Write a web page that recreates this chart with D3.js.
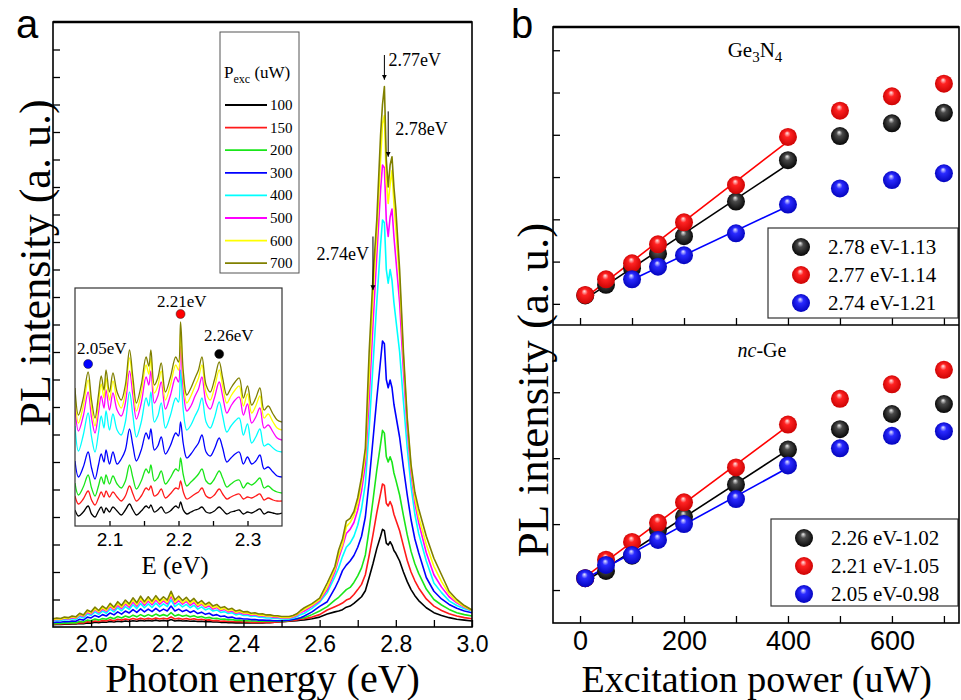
<!DOCTYPE html>
<html>
<head>
<meta charset="utf-8">
<script src="https://cdn.jsdelivr.net/npm/d3@7"></script>
<style>
  body { margin: 0; background: #fff; }
  svg { display: block; }
</style>
</head>
<body>
<svg id="chart" width="961" height="700"></svg>
<script>
// ===================== data =====================
// Panel a: PL spectra for each excitation power (uW)
const powers = [100, 150, 200, 300, 400, 500, 600, 700];
const powerColors = ["#000000", "#ff1a1a", "#19e619", "#0000ff", "#00ffff", "#ff00ff", "#ffff00", "#808000"];

// photon energy grid (eV): band region 1.90-2.55, then the main emission peak
const energyMain = [
  1.90,1.91,1.92,1.93,1.94,1.95,1.96,1.97,1.98,1.99,
  2.00,2.01,2.02,2.03,2.04,2.05,2.06,2.07,2.08,2.09,
  2.10,2.11,2.12,2.13,2.14,2.15,2.16,2.17,2.18,2.19,
  2.20,2.21,2.22,2.23,2.24,2.25,2.26,2.27,2.28,2.29,
  2.30,2.31,2.32,2.33,2.34,2.35,2.36,2.37,2.38,2.39,
  2.40,2.41,2.42,2.43,2.44,2.45,2.46,2.47,2.48,2.49,
  2.50,2.51,2.52,2.53,2.54,2.55,
  2.56,2.58,2.60,2.62,2.64,
  2.65,2.66,2.67,2.68,2.69,2.70,2.71,2.72,2.73,2.74,2.75,2.76,
  2.765,2.77,2.775,2.78,2.785,2.79,2.795,
  2.80,2.81,2.82,2.83,2.84,2.85,2.86,
  2.88,2.90,2.92,2.94,2.96,2.98,3.00
];

const pl100 = [
  0.08,0.09,0.09,0.10,0.10,0.11,0.11,0.13,0.12,0.15,
  0.14,0.17,0.16,0.18,0.17,0.20,0.18,0.21,0.19,0.22,
  0.20,0.23,0.21,0.24,0.22,0.24,0.22,0.25,0.22,0.24,
  0.22,0.27,0.22,0.24,0.22,0.23,0.21,0.22,0.20,0.21,
  0.19,0.20,0.18,0.18,0.17,0.17,0.16,0.16,0.15,0.15,
  0.15,0.15,0.15,0.15,0.15,0.15,0.16,0.16,0.17,0.18,
  0.19,0.20,0.21,0.22,0.23,0.25,
  0.26,0.30,0.36,0.47,0.55,
  0.58,0.63,0.72,0.76,0.86,0.98,1.10,1.32,1.80,2.30,2.85,3.30,
  3.55,3.50,3.05,2.98,3.10,2.98,2.78,
  2.68,2.40,2.00,1.65,1.36,1.14,0.96,
  0.70,0.52,0.42,0.34,0.28,0.25,0.22
];
const pl150 = [
  0.10,0.11,0.11,0.12,0.12,0.13,0.13,0.16,0.15,0.19,
  0.18,0.22,0.20,0.24,0.22,0.26,0.23,0.28,0.25,0.29,
  0.26,0.31,0.27,0.32,0.28,0.32,0.28,0.33,0.29,0.32,
  0.29,0.37,0.29,0.32,0.28,0.31,0.27,0.30,0.26,0.28,
  0.25,0.26,0.23,0.24,0.21,0.22,0.20,0.20,0.19,0.19,
  0.18,0.18,0.17,0.17,0.17,0.17,0.17,0.17,0.17,0.18,
  0.19,0.20,0.22,0.24,0.26,0.28,
  0.30,0.36,0.45,0.62,0.74,
  0.80,0.87,0.98,1.04,1.18,1.36,1.55,1.90,2.60,3.35,4.15,4.85,
  5.20,5.15,4.50,4.40,4.56,4.40,4.10,
  3.90,3.50,2.95,2.42,2.00,1.68,1.42,
  1.02,0.76,0.60,0.48,0.40,0.34,0.30
];
const pl200 = [
  0.12,0.13,0.13,0.15,0.14,0.16,0.15,0.20,0.18,0.25,
  0.23,0.29,0.25,0.31,0.28,0.35,0.30,0.38,0.33,0.40,
  0.35,0.43,0.37,0.45,0.38,0.45,0.39,0.47,0.40,0.45,
  0.40,0.52,0.40,0.45,0.39,0.43,0.37,0.41,0.35,0.38,
  0.33,0.35,0.31,0.32,0.28,0.29,0.26,0.27,0.24,0.25,
  0.23,0.23,0.22,0.22,0.21,0.21,0.21,0.21,0.21,0.21,
  0.21,0.22,0.24,0.27,0.30,0.32,
  0.34,0.45,0.58,0.74,0.98,
  1.08,1.22,1.36,1.44,1.62,1.86,2.15,2.62,3.55,4.60,5.70,6.65,
  7.15,7.05,6.20,6.00,6.19,6.00,5.60,
  5.35,4.80,4.05,3.35,2.75,2.30,1.95,
  1.38,1.00,0.80,0.64,0.52,0.45,0.40
];
const pl300 = [
  0.16,0.18,0.17,0.20,0.19,0.22,0.21,0.28,0.25,0.36,
  0.33,0.42,0.36,0.45,0.40,0.51,0.44,0.55,0.47,0.58,
  0.51,0.63,0.53,0.66,0.55,0.65,0.56,0.68,0.57,0.65,
  0.58,0.76,0.58,0.65,0.56,0.62,0.53,0.59,0.49,0.54,
  0.46,0.50,0.42,0.45,0.38,0.40,0.34,0.36,0.31,0.32,
  0.29,0.29,0.27,0.27,0.25,0.25,0.24,0.24,0.23,0.23,
  0.23,0.24,0.25,0.27,0.30,0.34,
  0.40,0.55,0.75,0.92,1.41,
  1.70,2.05,2.25,2.40,2.60,2.90,3.30,4.00,5.30,6.80,8.30,9.70,
  10.40,10.30,9.00,8.70,8.98,8.70,8.10,
  7.70,6.90,5.80,4.80,3.90,3.20,2.70,
  1.80,1.30,1.02,0.82,0.68,0.58,0.52
];
const pl400 = [
  0.22,0.25,0.24,0.27,0.26,0.30,0.28,0.38,0.33,0.47,
  0.42,0.55,0.46,0.58,0.50,0.65,0.55,0.70,0.59,0.74,
  0.64,0.81,0.67,0.85,0.70,0.84,0.71,0.87,0.73,0.84,
  0.74,0.99,0.74,0.85,0.73,0.82,0.70,0.79,0.65,0.73,
  0.62,0.68,0.58,0.62,0.53,0.56,0.49,0.52,0.44,0.47,
  0.42,0.43,0.38,0.40,0.36,0.36,0.33,0.33,0.31,0.31,
  0.29,0.29,0.29,0.32,0.37,0.45,
  0.50,0.68,0.90,1.25,1.83,
  2.15,2.56,2.90,3.05,3.30,3.70,4.30,5.20,7.20,9.50,11.80,13.90,
  14.80,14.70,13.00,12.50,13.00,12.60,11.80,
  11.20,10.00,8.20,6.50,5.10,4.10,3.40,
  2.40,1.60,1.25,0.95,0.78,0.66,0.58
];
const pl500 = [
  0.25,0.28,0.27,0.31,0.29,0.34,0.32,0.43,0.38,0.53,
  0.47,0.62,0.52,0.65,0.57,0.74,0.62,0.79,0.67,0.84,
  0.72,0.91,0.76,0.96,0.79,0.95,0.81,0.98,0.83,0.95,
  0.84,1.12,0.84,0.96,0.83,0.93,0.79,0.89,0.74,0.83,
  0.71,0.77,0.65,0.71,0.60,0.64,0.55,0.58,0.50,0.53,
  0.47,0.48,0.43,0.45,0.40,0.41,0.38,0.38,0.35,0.35,
  0.33,0.33,0.33,0.36,0.42,0.52,
  0.58,0.75,0.95,1.35,2.00,
  2.50,2.92,3.40,3.55,3.80,4.25,4.95,5.90,8.30,11.00,13.50,15.90,
  16.80,16.70,14.80,14.20,14.90,15.20,14.20,
  13.40,11.80,9.30,7.20,5.60,4.50,3.80,
  2.70,1.90,1.45,1.10,0.88,0.72,0.60
];
const pl600 = [
  0.27,0.30,0.28,0.33,0.31,0.37,0.34,0.46,0.41,0.57,
  0.51,0.66,0.56,0.70,0.61,0.79,0.67,0.85,0.72,0.90,
  0.78,0.98,0.81,1.03,0.85,1.01,0.87,1.05,0.89,1.01,
  0.90,1.20,0.90,1.03,0.88,0.99,0.85,0.96,0.79,0.88,
  0.75,0.83,0.70,0.75,0.64,0.68,0.59,0.63,0.53,0.57,
  0.51,0.52,0.46,0.48,0.43,0.44,0.40,0.40,0.38,0.38,
  0.35,0.35,0.35,0.39,0.45,0.55,
  0.64,0.80,1.00,1.45,2.10,
  2.62,3.00,3.65,3.80,4.05,4.50,5.25,6.25,9.10,12.00,14.30,17.00,
  18.30,18.60,16.20,15.40,16.10,16.60,15.40,
  14.50,12.60,9.80,7.50,5.80,4.70,4.00,
  3.00,2.20,1.65,1.20,0.92,0.74,0.60
];
const pl700 = [
  0.30,0.33,0.31,0.36,0.34,0.40,0.37,0.50,0.44,0.62,
  0.55,0.72,0.60,0.76,0.66,0.86,0.72,0.92,0.78,0.98,
  0.84,1.06,0.88,1.12,0.92,1.10,0.94,1.14,0.96,1.10,
  0.98,1.30,0.98,1.12,0.96,1.08,0.92,1.04,0.86,0.96,
  0.82,0.90,0.76,0.82,0.70,0.74,0.64,0.68,0.58,0.62,
  0.55,0.56,0.50,0.52,0.47,0.48,0.44,0.44,0.41,0.41,
  0.38,0.38,0.38,0.42,0.48,0.60,
  0.70,0.85,1.05,1.60,2.20,
  2.80,3.20,3.85,3.95,4.20,4.70,5.45,6.50,10.00,12.70,14.80,17.90,
  19.00,19.65,17.00,16.00,16.80,17.10,16.00,
  15.20,13.00,10.00,7.60,5.90,4.90,4.30,
  3.30,2.50,1.90,1.30,1.00,0.78,0.62
];
const spectra = [pl100, pl150, pl200, pl300, pl400, pl500, pl600, pl700];

// tick values of panel a
const ticksA = [2.0, 2.1, 2.2, 2.3, 2.4, 2.5, 2.6, 2.7, 2.8, 2.9, 3.0];
const tickLabelsA = [2.0, 2.2, 2.4, 2.6, 2.8, 3.0];

// peak annotations in panel a (arrow top / tip in intensity units)
const peakLabels = ["2.77eV", "2.78eV", "2.74eV"];
const peakEnergies = [2.77, 2.78, 2.74];
const arrowTop = [20.8, 18.75, 14.2];
const arrowTip = [19.9, 17.1, 12.25];

// Inset: band region 2.05-2.35 eV, spectra stacked
const energyInset = [
  2.050,2.055,2.062,2.069,2.074,2.079,2.084,2.088,2.092,2.095,
  2.100,2.105,2.111,2.117,2.123,2.129,2.134,2.139,2.146,2.153,
  2.157,2.160,2.165,2.170,2.175,2.181,2.188,2.196,2.200,2.203,
  2.207,2.212,2.218,2.224,2.229,2.234,2.240,2.246,2.252,2.259,
  2.264,2.270,2.276,2.282,2.288,2.294,2.300,2.306,2.312,2.318,
  2.324,2.330,2.337,2.343,2.350
];
const inset100 = [
  16,10,14,20,12,9,15,19,13,18, 14,19,15,11,16,22,16,11,15,20,
  18,21,14,16,19,13,15,20,18,24, 16,12,14,16,17,19,14,13,15,19,
  16,12,14,15,16,12,14,13,15,17, 12,14,13,12,13
];
const inset150 = [
  30,22,27,35,26,21,28,34,29,35, 29,34,29,25,30,40,32,25,30,38,
  36,40,30,32,37,28,32,38,37,45, 34,27,29,32,34,38,30,28,31,37,
  32,27,29,31,32,27,29,28,30,32, 26,28,26,25,25
];
const inset200 = [
  43,31,39,51,38,30,40,49,42,51, 42,50,42,38,45,61,48,37,45,57,
  53,61,45,48,55,42,48,57,55,68, 51,40,44,48,52,57,45,42,47,55,
  48,39,42,45,46,38,43,41,44,48, 38,40,36,34,33
];
const inset300 = [
  65,49,59,74,58,47,61,72,64,76, 62,74,62,67,76,97,80,65,76,93,
  87,97,76,80,89,72,80,93,90,104, 82,68,72,78,83,91,74,70,77,88,
  78,64,68,72,74,62,69,62,65,71, 57,59,54,50,49
];
const inset400 = [
  100,75,91,113,89,74,93,110,98,115, 96,112,96,91,104,134,110,89,104,128,
  120,134,104,110,123,98,110,128,124,156, 115,96,101,110,117,128,104,98,108,124,
  110,94,100,105,108,91,102,83,89,97, 80,82,78,75,74
];
const inset500 = [
  120,95,110,134,108,93,113,130,118,136, 116,133,116,110,123,155,130,107,123,149,
  141,155,123,130,144,117,130,149,144,180, 136,115,120,130,137,149,123,117,128,144,
  130,113,120,126,129,111,122,103,109,118, 98,101,94,88,86
];
const inset600 = [
  130,103,120,146,118,100,123,142,128,148, 126,145,126,118,133,168,140,115,133,161,
  152,168,133,140,155,126,140,161,156,194, 146,123,130,140,148,161,133,126,138,156,
  140,123,130,136,140,120,132,113,120,130, 108,112,104,98,96
];
const inset700 = [
  138,111,128,154,126,108,131,150,136,156, 134,153,134,126,141,176,148,123,141,169,
  160,176,141,148,163,134,148,169,164,204, 154,131,138,148,156,169,141,134,146,164,
  148,131,138,144,148,128,140,121,128,138, 116,120,112,106,104
];
const insetSpectra = [inset100, inset150, inset200, inset300, inset400, inset500, inset600, inset700];
const insetTicks = [2.1, 2.15, 2.2, 2.25, 2.3];
const insetTickLabels = [2.1, 2.2, 2.3];

// spikes marked in the inset (index into energyInset)
const insetMarkLabels = ["2.05eV", "2.21eV", "2.26eV"];
const insetMarkIndex = [3, 29, 39];
const insetMarkColors = ["#0000ff", "#ff0000", "#000000"];

// Panel b: integrated PL vs excitation power
const powerB = [10, 50, 100, 150, 200, 300, 400, 500, 600, 700];
const ge278 = [0.70, 0.95, 1.34, 1.69, 2.10, 2.92, 3.90, 4.47, 4.77, 5.02];
const ge277 = [0.71, 1.08, 1.46, 1.91, 2.43, 3.31, 4.45, 5.07, 5.41, 5.71];
const ge274 = [null, null, 1.08, 1.38, 1.65, 2.17, 2.85, 3.23, 3.43, 3.59];
const geLabels = ["2.78 eV-1.13", "2.77 eV-1.14", "2.74 eV-1.21"];

const nc226 = [0.68, 0.79, 1.02, 1.41, 1.61, 2.10, 2.63, 2.94, 3.17, 3.32];
const nc221 = [0.68, 0.96, 1.23, 1.52, 1.83, 2.36, 3.01, 3.40, 3.62, 3.84];
const nc205 = [0.68, 0.88, 1.03, 1.26, 1.50, 1.88, 2.39, 2.65, 2.84, 2.91];
const ncLabels = ["2.26 eV-1.02", "2.21 eV-1.05", "2.05 eV-0.98"];

const ticksB = [0, 100, 200, 300, 400, 500, 600, 700];
const tickLabelsB = [0, 200, 400, 600];
const seriesColors = ["black", "red", "blue"];
const lineColors = ["#000000", "#ff0000", "#0000ff"];
const fitMaxPower = 400;

// ===================== drawing =====================
const svg = d3.select("#chart");
const serif = "'Liberation Serif','Times New Roman',serif";
const sans = "'Liberation Sans',Arial,sans-serif";

const defs = svg.append("defs");
// shaded sphere fills
const sphereStops = {
  black: [["0%", "#f0f0f0"], ["30%", "#4a4a4a"], ["100%", "#000000"]],
  red:   [["0%", "#ffeaea"], ["32%", "#ff2222"], ["100%", "#c80000"]],
  blue:  [["0%", "#eaeaff"], ["32%", "#2a2aff"], ["100%", "#0000b8"]]
};
Object.entries(sphereStops).forEach(([name, stops]) => {
  const g = defs.append("radialGradient").attr("id", "sph-" + name)
    .attr("cx", "50%").attr("cy", "50%").attr("r", "55%")
    .attr("fx", "45%").attr("fy", "28%");
  stops.forEach(s => g.append("stop").attr("offset", s[0]).attr("stop-color", s[1]));
});
defs.append("marker").attr("id", "arrowhead")
  .attr("viewBox", "0 0 10 10").attr("refX", 10).attr("refY", 5)
  .attr("markerWidth", 5).attr("markerHeight", 7).attr("orient", "auto")
  .attr("markerUnits", "userSpaceOnUse")
  .append("path").attr("d", "M0,0 L10,5 L0,10 Z").attr("fill", "#000");

function styleTicks(g) {
  g.select(".domain").remove();
  g.selectAll("line").attr("stroke", "#000").attr("stroke-width", 1.3);
}

// ---------- Panel a ----------
const A = { l: 53, t: 22, r: 472, b: 627 };
const xA = d3.scaleLinear().domain([1.9, 3.0]).range([A.l, A.r]);
const yA = d3.scaleLinear().domain([0, 22]).range([A.b, A.t]);

const gA = svg.append("g");
const lineA = d3.line().x((d, i) => xA(energyMain[i])).y(d => yA(d));
spectra.forEach((s, k) => {
  gA.append("path").attr("d", lineA(s))
    .attr("fill", "none").attr("stroke", powerColors[k]).attr("stroke-width", 1.6)
    .attr("stroke-linejoin", "round");
});

// inward ticks
gA.append("g").attr("transform", `translate(${A.l},0)`)
  .call(d3.axisLeft(yA).tickValues(d3.range(1, 22)).tickSize(-7).tickFormat(""))
  .call(styleTicks).selectAll("text").remove();
gA.append("g").attr("transform", `translate(0,${A.b})`)
  .call(d3.axisBottom(xA).tickValues(ticksA).tickSize(-7).tickFormat(""))
  .call(styleTicks).selectAll("text").remove();
gA.append("g").attr("transform", `translate(0,${A.b})`)
  .call(d3.axisBottom(xA).tickValues(tickLabelsA).tickSize(0).tickPadding(9).tickFormat(d3.format(".1f")))
  .call(g => g.select(".domain").remove())
  .call(g => g.selectAll("text").attr("font-family", sans).attr("font-size", 23).attr("fill", "#000"));

gA.append("rect").attr("x", A.l).attr("y", A.t).attr("width", A.r - A.l).attr("height", A.b - A.t)
  .attr("fill", "none").attr("stroke", "#000").attr("stroke-width", 1.6);
gA.append("line").attr("x1", A.l).attr("x2", A.r).attr("y1", A.t).attr("y2", A.t)
  .attr("stroke", "#000").attr("stroke-width", 2.4);

// axis titles
svg.append("text").attr("x", xA(2.45)).attr("y", 692).attr("text-anchor", "middle")
  .attr("font-family", serif).attr("font-size", 40).text("Photon energy (eV)");
svg.append("text").attr("transform", "translate(50,263) rotate(-90)")
  .attr("text-anchor", "middle").attr("font-family", serif).attr("font-size", 44)
  .text("PL intensity (a. u.)");
svg.append("text").attr("x", 16).attr("y", 38).attr("font-family", sans).attr("font-size", 40).text("a");

// peak arrows
peakEnergies.forEach((e, i) => {
  const x = xA(e);
  gA.append("line").attr("x1", x).attr("x2", x).attr("y1", yA(arrowTop[i])).attr("y2", yA(arrowTip[i]))
    .attr("stroke", "#000").attr("stroke-width", 1).attr("marker-end", "url(#arrowhead)");
  const t = gA.append("text").attr("font-family", serif).attr("font-size", 18).text(peakLabels[i]);
  if (i === 0) t.attr("x", x + 4).attr("y", yA(arrowTop[i]) + 11);
  else if (i === 1) t.attr("x", x + 7).attr("y", yA(arrowTop[i]) + 24);
  else t.attr("x", x - 4).attr("y", yA(arrowTop[i]) + 23).attr("text-anchor", "end");
});

// legend of panel a
const L = { x: 220, y: 32, w: 79, h: 241 };
const gL = svg.append("g");
gL.append("rect").attr("x", L.x).attr("y", L.y).attr("width", L.w).attr("height", L.h)
  .attr("fill", "#fff").attr("stroke", "#555").attr("stroke-width", 1);
const lt = gL.append("text").attr("x", L.x + 4).attr("y", 78).attr("font-family", serif).attr("font-size", 17);
lt.append("tspan").text("P");
lt.append("tspan").attr("font-size", 12).attr("dy", 5).text("exc");
lt.append("tspan").attr("dy", -5).text(" (uW)");
powers.forEach((p, k) => {
  const yy = 105 + k * 22.6;
  gL.append("line").attr("x1", 225).attr("x2", 267).attr("y1", yy).attr("y2", yy)
    .attr("stroke", powerColors[k]).attr("stroke-width", 1.8);
  gL.append("text").attr("x", 270).attr("y", yy + 5).attr("font-family", serif).attr("font-size", 15).text(p);
});

// inset
const I = { l: 75, t: 288, r: 282, b: 526 };
const xI = d3.scaleLinear().domain([2.05, 2.35]).range([I.l, I.r]);
const yI = d3.scaleLinear().domain([0, I.b - I.t]).range([I.b, I.t]);
const gI = svg.append("g");
gI.append("rect").attr("x", I.l).attr("y", I.t).attr("width", I.r - I.l).attr("height", I.b - I.t)
  .attr("fill", "#fff");
defs.append("clipPath").attr("id", "insetClip").append("rect")
  .attr("x", I.l).attr("y", I.t).attr("width", I.r - I.l).attr("height", I.b - I.t);
const gIc = gI.append("g").attr("clip-path", "url(#insetClip)");
const lineI = d3.line().x((d, i) => xI(energyInset[i])).y(d => yI(d)).curve(d3.curveCatmullRom.alpha(0.5));
insetSpectra.forEach((s, k) => {
  gIc.append("path").attr("d", lineI(s)).attr("fill", "none")
    .attr("stroke", powerColors[k]).attr("stroke-width", 1.3).attr("stroke-linejoin", "round");
});
gI.append("g").attr("transform", `translate(0,${I.b})`)
  .call(d3.axisBottom(xI).tickValues(insetTicks).tickSize(-5).tickFormat(""))
  .call(styleTicks).selectAll("text").remove();
gI.append("g").attr("transform", `translate(0,${I.b})`)
  .call(d3.axisBottom(xI).tickValues(insetTickLabels).tickSize(0).tickPadding(7).tickFormat(d3.format(".1f")))
  .call(g => g.select(".domain").remove())
  .call(g => g.selectAll("text").attr("font-family", sans).attr("font-size", 19).attr("fill", "#000"));
gI.append("rect").attr("x", I.l).attr("y", I.t).attr("width", I.r - I.l).attr("height", I.b - I.t)
  .attr("fill", "none").attr("stroke", "#333").attr("stroke-width", 1.2);
gI.append("text").attr("x", xI(2.195)).attr("y", 574).attr("text-anchor", "middle")
  .attr("font-family", serif).attr("font-size", 25).text("E (eV)");
insetMarkIndex.forEach((idx, i) => {
  const cx = xI(energyInset[idx]);
  const cy = yI(inset700[idx] + 8);
  gI.append("circle").attr("cx", cx).attr("cy", cy).attr("r", 4.5).attr("fill", insetMarkColors[i])
    .attr("stroke", "#222").attr("stroke-width", 0.5);
});
const insetLabelPos = [[77, 354], [157, 307], [204, 341]];
insetMarkLabels.forEach((t, i) => {
  gI.append("text").attr("x", insetLabelPos[i][0]).attr("y", insetLabelPos[i][1])
    .attr("font-family", serif).attr("font-size", 17).text(t);
});

// ---------- Panel b ----------
const B = { l: 553, r: 959, t: 27, m: 325, b: 623 };
const xB = d3.scaleLinear().domain([-52, 729]).range([B.l, B.r]);
const yTop = d3.scaleLinear().domain([0, 7.05]).range([B.m, B.t]);
const yBot = d3.scaleLinear().domain([0, 4.52]).range([B.b, B.m]);
const gB = svg.append("g");

function fitLine(vals) {
  const pts = powerB.map((p, i) => [p, vals[i]]).filter(d => d[1] != null && d[0] <= fitMaxPower);
  const n = pts.length;
  const mx = d3.mean(pts, d => d[0]), my = d3.mean(pts, d => d[1]);
  const sxy = d3.sum(pts, d => (d[0] - mx) * (d[1] - my));
  const sxx = d3.sum(pts, d => (d[0] - mx) ** 2);
  const k = sxy / sxx, c = my - k * mx;
  const x0 = pts[0][0], x1 = pts[n - 1][0];
  return [[x0, c + k * x0], [x1, c + k * x1]];
}

function drawSub(yS, series, labels, ticks, legendBox) {
  const g = gB.append("g");
  // inward ticks
  g.append("g").attr("transform", `translate(${B.l},0)`)
    .call(d3.axisLeft(yS).tickValues(ticks).tickSize(-7).tickFormat(""))
    .call(styleTicks).selectAll("text").remove();
  g.append("g").attr("transform", `translate(0,${yS.range()[0]})`)
    .call(d3.axisBottom(xB).tickValues(ticksB).tickSize(-7).tickFormat(""))
    .call(styleTicks).selectAll("text").remove();
  // linear fits over the low-power range
  series.forEach((vals, k) => {
    const f = fitLine(vals);
    g.append("line").attr("x1", xB(f[0][0])).attr("y1", yS(f[0][1]))
      .attr("x2", xB(f[1][0])).attr("y2", yS(f[1][1]))
      .attr("stroke", lineColors[k]).attr("stroke-width", 1.6);
  });
  series.forEach((vals, k) => {
    g.selectAll(null).data(powerB.map((p, i) => [p, vals[i]]).filter(d => d[1] != null))
      .join("circle").attr("cx", d => xB(d[0])).attr("cy", d => yS(d[1])).attr("r", 9)
      .attr("fill", `url(#sph-${seriesColors[k]})`);
  });
  // legend
  g.append("rect").attr("x", legendBox.x).attr("y", legendBox.y).attr("width", legendBox.w).attr("height", legendBox.h)
    .attr("fill", "#fff").attr("stroke", "#333").attr("stroke-width", 1.2);
  labels.forEach((t, k) => {
    const yy = legendBox.y + 19 + k * 28;
    g.append("circle").attr("cx", legendBox.x + 33).attr("cy", yy).attr("r", 9)
      .attr("fill", `url(#sph-${seriesColors[k]})`);
    g.append("text").attr("x", legendBox.x + 60).attr("y", yy + 7)
      .attr("font-family", serif).attr("font-size", 21).text(t);
  });
}

drawSub(yTop, [ge278, ge277, ge274], geLabels, [0.5, 1.5, 2.5, 3.5, 4.5, 5.5, 6.5],
  { x: 768, y: 228, w: 190, h: 90 });
drawSub(yBot, [nc226, nc221, nc205], ncLabels, [0.5, 1.5, 2.5, 3.5],
  { x: 771, y: 519, w: 187, h: 87 });

// bottom tick labels
gB.append("g").attr("transform", `translate(0,${B.b})`)
  .call(d3.axisBottom(xB).tickValues(tickLabelsB).tickSize(0).tickPadding(8))
  .call(a => a.select(".domain").remove())
  .selectAll("text").attr("font-family", sans).attr("font-size", 27).attr("fill", "#000");

gB.append("rect").attr("x", B.l).attr("y", B.t).attr("width", B.r - B.l).attr("height", B.b - B.t)
  .attr("fill", "none").attr("stroke", "#000").attr("stroke-width", 1.6);
gB.append("line").attr("x1", B.l).attr("x2", B.r).attr("y1", B.m).attr("y2", B.m)
  .attr("stroke", "#000").attr("stroke-width", 1.6);
gB.append("line").attr("x1", B.l).attr("x2", B.r).attr("y1", B.t).attr("y2", B.t)
  .attr("stroke", "#000").attr("stroke-width", 2.4);

// sample labels
const tGe = gB.append("text").attr("x", 755).attr("y", 57).attr("text-anchor", "middle")
  .attr("font-family", serif).attr("font-size", 21);
tGe.append("tspan").text("Ge");
tGe.append("tspan").attr("font-size", 15).attr("dy", 5).text("3");
tGe.append("tspan").attr("dy", -5).text("N");
tGe.append("tspan").attr("font-size", 15).attr("dy", 5).text("4");
const tNc = gB.append("text").attr("x", 762).attr("y", 357).attr("text-anchor", "middle")
  .attr("font-family", serif).attr("font-size", 20);
tNc.append("tspan").attr("font-style", "italic").text("nc");
tNc.append("tspan").text("-Ge");

svg.append("text").attr("x", xB(340)).attr("y", 692).attr("text-anchor", "middle")
  .attr("font-family", serif).attr("font-size", 38).text("Excitation power (uW)");
svg.append("text").attr("transform", "translate(548,390) rotate(-90)")
  .attr("text-anchor", "middle").attr("font-family", serif).attr("font-size", 45)
  .text("PL intensity (a. u.)");
svg.append("text").attr("x", 511).attr("y", 38).attr("font-family", sans).attr("font-size", 40).text("b");
</script>
</body>
</html>
